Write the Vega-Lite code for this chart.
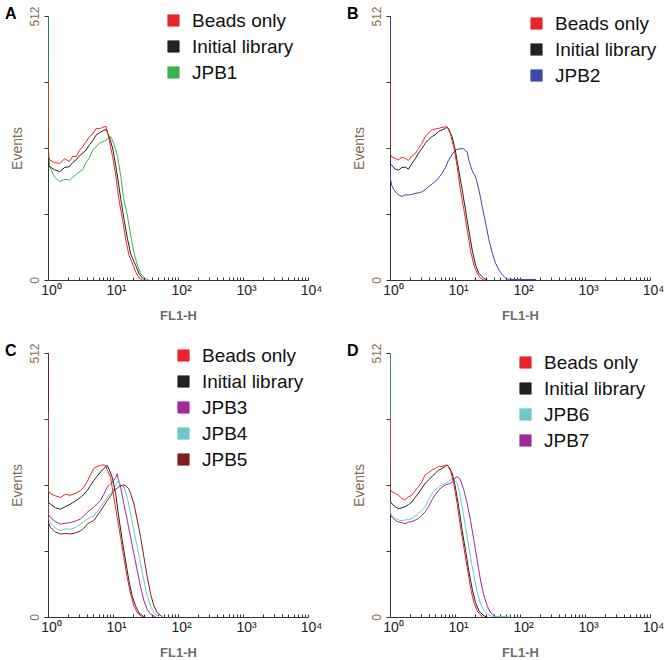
{
 "$schema": "https://vega.github.io/schema/vega-lite/v6.json",
 "padding": 5,
 "bounds": "flush",
 "columns": 2,
 "spacing": {"row": 73, "column": 82},
 "datasets": {
  "A": [
   {"series":"JPB1","x":1,"y":512},{"series":"JPB1","x":1.005,"y":265},{"series":"JPB1","x":1.06,"y":220},{"series":"JPB1","x":1.25,"y":200},{"series":"JPB1","x":1.51,"y":191},{"series":"JPB1","x":1.8,"y":195},{"series":"JPB1","x":2.14,"y":194},{"series":"JPB1","x":2.5,"y":201},{"series":"JPB1","x":2.9,"y":208},{"series":"JPB1","x":3.43,"y":214},{"series":"JPB1","x":3.85,"y":228},{"series":"JPB1","x":4.33,"y":236},{"series":"JPB1","x":4.87,"y":252},{"series":"JPB1","x":5.48,"y":258},{"series":"JPB1","x":6.16,"y":265},{"series":"JPB1","x":6.93,"y":268},{"series":"JPB1","x":7.79,"y":271},{"series":"JPB1","x":8.5,"y":275},{"series":"JPB1","x":9.29,"y":278},{"series":"JPB1","x":10.45,"y":262},{"series":"JPB1","x":11.75,"y":239},{"series":"JPB1","x":13.2,"y":201},{"series":"JPB1","x":14.5,"y":160},{"series":"JPB1","x":16.7,"y":124},{"series":"JPB1","x":18.8,"y":85},{"series":"JPB1","x":21.1,"y":53},{"series":"JPB1","x":23.8,"y":28},{"series":"JPB1","x":26.7,"y":12},{"series":"JPB1","x":31.9,"y":2},{"series":"JPB1","x":35.8,"y":0},
   {"series":"Initial library","x":1,"y":300},{"series":"Initial library","x":1.005,"y":222},{"series":"Initial library","x":1.06,"y":220},{"series":"Initial library","x":1.25,"y":214},{"series":"Initial library","x":1.51,"y":210},{"series":"Initial library","x":1.8,"y":218},{"series":"Initial library","x":2.14,"y":220},{"series":"Initial library","x":2.4,"y":228},{"series":"Initial library","x":2.71,"y":233},{"series":"Initial library","x":3.0,"y":240},{"series":"Initial library","x":3.43,"y":246},{"series":"Initial library","x":3.85,"y":252},{"series":"Initial library","x":4.33,"y":262},{"series":"Initial library","x":4.87,"y":270},{"series":"Initial library","x":5.48,"y":281},{"series":"Initial library","x":6.16,"y":285},{"series":"Initial library","x":6.93,"y":289},{"series":"Initial library","x":7.79,"y":292},{"series":"Initial library","x":8.76,"y":278},{"series":"Initial library","x":9.86,"y":256},{"series":"Initial library","x":10.45,"y":239},{"series":"Initial library","x":11.75,"y":200},{"series":"Initial library","x":13.2,"y":156},{"series":"Initial library","x":14.9,"y":115},{"series":"Initial library","x":16.7,"y":80},{"series":"Initial library","x":18.8,"y":50},{"series":"Initial library","x":22.4,"y":28},{"series":"Initial library","x":25.2,"y":12},{"series":"Initial library","x":28.3,"y":4},{"series":"Initial library","x":31,"y":0},
   {"series":"Beads only","x":1,"y":384},{"series":"Beads only","x":1.005,"y":240},{"series":"Beads only","x":1.06,"y":233},{"series":"Beads only","x":1.25,"y":228},{"series":"Beads only","x":1.51,"y":226},{"series":"Beads only","x":1.8,"y":235},{"series":"Beads only","x":2.14,"y":230},{"series":"Beads only","x":2.4,"y":240},{"series":"Beads only","x":2.71,"y":239},{"series":"Beads only","x":3.0,"y":250},{"series":"Beads only","x":3.43,"y":259},{"series":"Beads only","x":3.85,"y":268},{"series":"Beads only","x":4.33,"y":278},{"series":"Beads only","x":4.87,"y":283},{"series":"Beads only","x":5.48,"y":294},{"series":"Beads only","x":6.16,"y":293},{"series":"Beads only","x":6.93,"y":296},{"series":"Beads only","x":7.79,"y":298},{"series":"Beads only","x":8.3,"y":285},{"series":"Beads only","x":8.76,"y":271},{"series":"Beads only","x":9.86,"y":239},{"series":"Beads only","x":11.08,"y":201},{"series":"Beads only","x":12.2,"y":160},{"series":"Beads only","x":14.0,"y":117},{"series":"Beads only","x":15.7,"y":79},{"series":"Beads only","x":17.7,"y":47},{"series":"Beads only","x":20.6,"y":28},{"series":"Beads only","x":22.4,"y":15},{"series":"Beads only","x":25.2,"y":4},{"series":"Beads only","x":28.3,"y":0}
  ],
  "B": [
   {"series":"JPB2","x":1,"y":512},{"series":"JPB2","x":1.005,"y":200},{"series":"JPB2","x":1.06,"y":184},{"series":"JPB2","x":1.15,"y":175},{"series":"JPB2","x":1.27,"y":168},{"series":"JPB2","x":1.4,"y":164},{"series":"JPB2","x":1.52,"y":162},{"series":"JPB2","x":1.71,"y":165},{"series":"JPB2","x":1.92,"y":165},{"series":"JPB2","x":2.17,"y":166},{"series":"JPB2","x":2.44,"y":168},{"series":"JPB2","x":2.75,"y":169},{"series":"JPB2","x":3.09,"y":171},{"series":"JPB2","x":3.48,"y":175},{"series":"JPB2","x":3.92,"y":181},{"series":"JPB2","x":4.42,"y":186},{"series":"JPB2","x":4.97,"y":191},{"series":"JPB2","x":5.6,"y":198},{"series":"JPB2","x":6.31,"y":207},{"series":"JPB2","x":7.11,"y":218},{"series":"JPB2","x":8.0,"y":233},{"series":"JPB2","x":9.0,"y":243},{"series":"JPB2","x":10.1,"y":252},{"series":"JPB2","x":11.4,"y":254},{"series":"JPB2","x":12.9,"y":255},{"series":"JPB2","x":13.7,"y":254},{"series":"JPB2","x":14.5,"y":251},{"series":"JPB2","x":15.4,"y":249},{"series":"JPB2","x":16.3,"y":233},{"series":"JPB2","x":17.3,"y":222},{"series":"JPB2","x":18.4,"y":212},{"series":"JPB2","x":20.7,"y":200},{"series":"JPB2","x":23.3,"y":175},{"series":"JPB2","x":26.3,"y":142},{"series":"JPB2","x":29.6,"y":110},{"series":"JPB2","x":33.3,"y":78},{"series":"JPB2","x":37.5,"y":52},{"series":"JPB2","x":42.3,"y":32},{"series":"JPB2","x":47.5,"y":19},{"series":"JPB2","x":53.6,"y":10},{"series":"JPB2","x":60.4,"y":3},{"series":"JPB2","x":68,"y":1},{"series":"JPB2","x":100,"y":1},{"series":"JPB2","x":176,"y":1},
   {"series":"Initial library","x":1,"y":300},{"series":"Initial library","x":1.005,"y":225},{"series":"Initial library","x":1.06,"y":223},{"series":"Initial library","x":1.2,"y":215},{"series":"Initial library","x":1.35,"y":213},{"series":"Initial library","x":1.52,"y":218},{"series":"Initial library","x":1.71,"y":219},{"series":"Initial library","x":1.92,"y":215},{"series":"Initial library","x":2.17,"y":226},{"series":"Initial library","x":2.44,"y":235},{"series":"Initial library","x":2.75,"y":246},{"series":"Initial library","x":3.09,"y":255},{"series":"Initial library","x":3.48,"y":265},{"series":"Initial library","x":3.92,"y":272},{"series":"Initial library","x":4.42,"y":278},{"series":"Initial library","x":4.97,"y":282},{"series":"Initial library","x":5.6,"y":288},{"series":"Initial library","x":6.31,"y":291},{"series":"Initial library","x":7.11,"y":294},{"series":"Initial library","x":7.54,"y":297},{"series":"Initial library","x":8.0,"y":293},{"series":"Initial library","x":8.49,"y":285},{"series":"Initial library","x":9.01,"y":278},{"series":"Initial library","x":10.1,"y":252},{"series":"Initial library","x":11.4,"y":213},{"series":"Initial library","x":12.9,"y":175},{"series":"Initial library","x":14.5,"y":136},{"series":"Initial library","x":16.3,"y":97},{"series":"Initial library","x":18.4,"y":58},{"series":"Initial library","x":20.7,"y":29},{"series":"Initial library","x":23.3,"y":13},{"series":"Initial library","x":27.9,"y":3},{"series":"Initial library","x":31.4,"y":0},
   {"series":"Beads only","x":1,"y":385},{"series":"Beads only","x":1.005,"y":245},{"series":"Beads only","x":1.06,"y":239},{"series":"Beads only","x":1.2,"y":236},{"series":"Beads only","x":1.35,"y":233},{"series":"Beads only","x":1.52,"y":238},{"series":"Beads only","x":1.71,"y":236},{"series":"Beads only","x":1.92,"y":232},{"series":"Beads only","x":2.17,"y":240},{"series":"Beads only","x":2.44,"y":245},{"series":"Beads only","x":2.75,"y":255},{"series":"Beads only","x":3.09,"y":265},{"series":"Beads only","x":3.48,"y":278},{"series":"Beads only","x":3.92,"y":285},{"series":"Beads only","x":4.42,"y":291},{"series":"Beads only","x":4.97,"y":293},{"series":"Beads only","x":5.6,"y":294},{"series":"Beads only","x":6.31,"y":296},{"series":"Beads only","x":7.11,"y":297},{"series":"Beads only","x":7.54,"y":297},{"series":"Beads only","x":8.0,"y":290},{"series":"Beads only","x":8.49,"y":284},{"series":"Beads only","x":9.01,"y":270},{"series":"Beads only","x":9.57,"y":259},{"series":"Beads only","x":10.8,"y":220},{"series":"Beads only","x":12.1,"y":175},{"series":"Beads only","x":13.7,"y":136},{"series":"Beads only","x":15.4,"y":97},{"series":"Beads only","x":17.3,"y":58},{"series":"Beads only","x":19.5,"y":29},{"series":"Beads only","x":22,"y":13},{"series":"Beads only","x":24.8,"y":3},{"series":"Beads only","x":27.9,"y":0}
  ],
  "C": [
   {"series":"JPB3","x":1,"y":400},{"series":"JPB3","x":1.005,"y":200},{"series":"JPB3","x":1.09,"y":193},{"series":"JPB3","x":1.3,"y":185},{"series":"JPB3","x":1.55,"y":180},{"series":"JPB3","x":1.85,"y":182},{"series":"JPB3","x":2.21,"y":183},{"series":"JPB3","x":2.65,"y":186},{"series":"JPB3","x":3.16,"y":190},{"series":"JPB3","x":3.55,"y":196},{"series":"JPB3","x":4.0,"y":203},{"series":"JPB3","x":4.5,"y":208},{"series":"JPB3","x":5.07,"y":213},{"series":"JPB3","x":5.7,"y":220},{"series":"JPB3","x":6.43,"y":226},{"series":"JPB3","x":7.2,"y":238},{"series":"JPB3","x":8.15,"y":252},{"series":"JPB3","x":9.2,"y":258},{"series":"JPB3","x":10.3,"y":265},{"series":"JPB3","x":11.0,"y":270},{"series":"JPB3","x":11.6,"y":278},{"series":"JPB3","x":12.3,"y":262},{"series":"JPB3","x":13.1,"y":252},{"series":"JPB3","x":14.7,"y":219},{"series":"JPB3","x":16.6,"y":187},{"series":"JPB3","x":18.7,"y":154},{"series":"JPB3","x":21.0,"y":122},{"series":"JPB3","x":23.7,"y":89},{"series":"JPB3","x":26.7,"y":57},{"series":"JPB3","x":30,"y":31},{"series":"JPB3","x":33.8,"y":14},{"series":"JPB3","x":38,"y":5},{"series":"JPB3","x":45.5,"y":0},
   {"series":"JPB4","x":1,"y":400},{"series":"JPB4","x":1.005,"y":190},{"series":"JPB4","x":1.09,"y":183},{"series":"JPB4","x":1.3,"y":172},{"series":"JPB4","x":1.55,"y":167},{"series":"JPB4","x":1.85,"y":171},{"series":"JPB4","x":2.21,"y":170},{"series":"JPB4","x":2.65,"y":174},{"series":"JPB4","x":3.16,"y":180},{"series":"JPB4","x":3.55,"y":185},{"series":"JPB4","x":4.0,"y":190},{"series":"JPB4","x":4.5,"y":193},{"series":"JPB4","x":5.07,"y":196},{"series":"JPB4","x":5.7,"y":205},{"series":"JPB4","x":6.43,"y":213},{"series":"JPB4","x":7.2,"y":222},{"series":"JPB4","x":8.15,"y":232},{"series":"JPB4","x":9.2,"y":240},{"series":"JPB4","x":10.3,"y":248},{"series":"JPB4","x":11.6,"y":262},{"series":"JPB4","x":12.3,"y":266},{"series":"JPB4","x":13.1,"y":255},{"series":"JPB4","x":14.7,"y":252},{"series":"JPB4","x":16.6,"y":232},{"series":"JPB4","x":18.7,"y":200},{"series":"JPB4","x":21.0,"y":167},{"series":"JPB4","x":23.7,"y":135},{"series":"JPB4","x":26.7,"y":102},{"series":"JPB4","x":30.0,"y":70},{"series":"JPB4","x":33.8,"y":40},{"series":"JPB4","x":38,"y":21},{"series":"JPB4","x":42.8,"y":8},{"series":"JPB4","x":51.2,"y":0},
   {"series":"JPB5","x":1,"y":512},{"series":"JPB5","x":1.005,"y":185},{"series":"JPB5","x":1.09,"y":174},{"series":"JPB5","x":1.3,"y":165},{"series":"JPB5","x":1.55,"y":161},{"series":"JPB5","x":1.85,"y":162},{"series":"JPB5","x":2.21,"y":161},{"series":"JPB5","x":2.65,"y":163},{"series":"JPB5","x":3.16,"y":167},{"series":"JPB5","x":3.55,"y":172},{"series":"JPB5","x":4.0,"y":180},{"series":"JPB5","x":4.5,"y":184},{"series":"JPB5","x":5.07,"y":187},{"series":"JPB5","x":5.7,"y":196},{"series":"JPB5","x":6.43,"y":206},{"series":"JPB5","x":7.2,"y":215},{"series":"JPB5","x":8.15,"y":226},{"series":"JPB5","x":9.2,"y":235},{"series":"JPB5","x":10.3,"y":245},{"series":"JPB5","x":11.6,"y":250},{"series":"JPB5","x":13.1,"y":255},{"series":"JPB5","x":14.7,"y":256},{"series":"JPB5","x":15.6,"y":255},{"series":"JPB5","x":17.6,"y":248},{"series":"JPB5","x":18.7,"y":239},{"series":"JPB5","x":21.0,"y":219},{"series":"JPB5","x":23.7,"y":187},{"series":"JPB5","x":26.7,"y":154},{"series":"JPB5","x":30.0,"y":115},{"series":"JPB5","x":33.8,"y":76},{"series":"JPB5","x":38.0,"y":44},{"series":"JPB5","x":42.8,"y":21},{"series":"JPB5","x":48.2,"y":8},{"series":"JPB5","x":57.7,"y":0},
   {"series":"Initial library","x":1,"y":320},{"series":"Initial library","x":1.005,"y":222},{"series":"Initial library","x":1.09,"y":219},{"series":"Initial library","x":1.3,"y":212},{"series":"Initial library","x":1.55,"y":209},{"series":"Initial library","x":1.85,"y":214},{"series":"Initial library","x":2.21,"y":219},{"series":"Initial library","x":2.65,"y":225},{"series":"Initial library","x":3.16,"y":232},{"series":"Initial library","x":3.55,"y":238},{"series":"Initial library","x":4.0,"y":245},{"series":"Initial library","x":4.5,"y":255},{"series":"Initial library","x":5.07,"y":265},{"series":"Initial library","x":5.7,"y":273},{"series":"Initial library","x":6.43,"y":281},{"series":"Initial library","x":7.2,"y":288},{"series":"Initial library","x":8.15,"y":294},{"series":"Initial library","x":8.8,"y":285},{"series":"Initial library","x":9.73,"y":271},{"series":"Initial library","x":11.0,"y":239},{"series":"Initial library","x":12.3,"y":193},{"series":"Initial library","x":13.9,"y":148},{"series":"Initial library","x":15.6,"y":109},{"series":"Initial library","x":17.6,"y":70},{"series":"Initial library","x":19.8,"y":40},{"series":"Initial library","x":22.3,"y":21},{"series":"Initial library","x":25.1,"y":8},{"series":"Initial library","x":30,"y":0},
   {"series":"Beads only","x":1,"y":385},{"series":"Beads only","x":1.005,"y":245},{"series":"Beads only","x":1.09,"y":239},{"series":"Beads only","x":1.3,"y":235},{"series":"Beads only","x":1.55,"y":232},{"series":"Beads only","x":1.85,"y":238},{"series":"Beads only","x":2.21,"y":236},{"series":"Beads only","x":2.65,"y":240},{"series":"Beads only","x":3.16,"y":245},{"series":"Beads only","x":3.55,"y":252},{"series":"Beads only","x":4.0,"y":262},{"series":"Beads only","x":4.5,"y":276},{"series":"Beads only","x":5.07,"y":288},{"series":"Beads only","x":5.7,"y":292},{"series":"Beads only","x":6.43,"y":294},{"series":"Beads only","x":7.0,"y":295},{"series":"Beads only","x":7.68,"y":294},{"series":"Beads only","x":8.15,"y":285},{"series":"Beads only","x":9.18,"y":271},{"series":"Beads only","x":10.3,"y":232},{"series":"Beads only","x":11.6,"y":193},{"series":"Beads only","x":13.1,"y":154},{"series":"Beads only","x":14.7,"y":115},{"series":"Beads only","x":16.6,"y":76},{"series":"Beads only","x":18.7,"y":44},{"series":"Beads only","x":21,"y":21},{"series":"Beads only","x":23.7,"y":8},{"series":"Beads only","x":28.3,"y":0}
  ],
  "D": [
   {"series":"JPB7","x":1,"y":300},{"series":"JPB7","x":1.005,"y":200},{"series":"JPB7","x":1.06,"y":194},{"series":"JPB7","x":1.2,"y":188},{"series":"JPB7","x":1.35,"y":184},{"series":"JPB7","x":1.52,"y":183},{"series":"JPB7","x":1.71,"y":181},{"series":"JPB7","x":1.92,"y":184},{"series":"JPB7","x":2.17,"y":185},{"series":"JPB7","x":2.44,"y":188},{"series":"JPB7","x":2.75,"y":191},{"series":"JPB7","x":3.09,"y":197},{"series":"JPB7","x":3.48,"y":204},{"series":"JPB7","x":3.92,"y":214},{"series":"JPB7","x":4.42,"y":227},{"series":"JPB7","x":4.97,"y":237},{"series":"JPB7","x":5.6,"y":246},{"series":"JPB7","x":6.31,"y":252},{"series":"JPB7","x":7.11,"y":256},{"series":"JPB7","x":8.0,"y":258},{"series":"JPB7","x":8.49,"y":259},{"series":"JPB7","x":9.57,"y":264},{"series":"JPB7","x":10.1,"y":270},{"series":"JPB7","x":10.8,"y":272},{"series":"JPB7","x":11.4,"y":270},{"series":"JPB7","x":12.1,"y":266},{"series":"JPB7","x":13.7,"y":246},{"series":"JPB7","x":15.4,"y":220},{"series":"JPB7","x":17.3,"y":188},{"series":"JPB7","x":19.5,"y":149},{"series":"JPB7","x":22.0,"y":109},{"series":"JPB7","x":24.8,"y":70},{"series":"JPB7","x":27.9,"y":41},{"series":"JPB7","x":31.4,"y":21},{"series":"JPB7","x":35.5,"y":8},{"series":"JPB7","x":42.3,"y":0},
   {"series":"JPB6","x":1,"y":512},{"series":"JPB6","x":1.005,"y":205},{"series":"JPB6","x":1.06,"y":197},{"series":"JPB6","x":1.2,"y":192},{"series":"JPB6","x":1.35,"y":188},{"series":"JPB6","x":1.52,"y":187},{"series":"JPB6","x":1.71,"y":188},{"series":"JPB6","x":1.92,"y":189},{"series":"JPB6","x":2.17,"y":191},{"series":"JPB6","x":2.44,"y":196},{"series":"JPB6","x":2.75,"y":201},{"series":"JPB6","x":3.09,"y":207},{"series":"JPB6","x":3.48,"y":214},{"series":"JPB6","x":3.92,"y":228},{"series":"JPB6","x":4.42,"y":240},{"series":"JPB6","x":4.97,"y":246},{"series":"JPB6","x":5.6,"y":253},{"series":"JPB6","x":6.31,"y":256},{"series":"JPB6","x":7.11,"y":259},{"series":"JPB6","x":8.0,"y":262},{"series":"JPB6","x":9.01,"y":269},{"series":"JPB6","x":9.57,"y":268},{"series":"JPB6","x":10.1,"y":264},{"series":"JPB6","x":10.8,"y":259},{"series":"JPB6","x":12.1,"y":233},{"series":"JPB6","x":13.7,"y":194},{"series":"JPB6","x":15.4,"y":155},{"series":"JPB6","x":17.3,"y":116},{"series":"JPB6","x":19.5,"y":80},{"series":"JPB6","x":22.0,"y":48},{"series":"JPB6","x":24.8,"y":25},{"series":"JPB6","x":27.9,"y":12},{"series":"JPB6","x":33.3,"y":4},{"series":"JPB6","x":37.5,"y":1},{"series":"JPB6","x":60,"y":1},{"series":"JPB6","x":68,"y":0},
   {"series":"Initial library","x":1,"y":300},{"series":"Initial library","x":1.005,"y":225},{"series":"Initial library","x":1.06,"y":220},{"series":"Initial library","x":1.2,"y":214},{"series":"Initial library","x":1.35,"y":210},{"series":"Initial library","x":1.52,"y":212},{"series":"Initial library","x":1.71,"y":214},{"series":"Initial library","x":1.92,"y":218},{"series":"Initial library","x":2.17,"y":223},{"series":"Initial library","x":2.44,"y":232},{"series":"Initial library","x":2.75,"y":240},{"series":"Initial library","x":3.09,"y":250},{"series":"Initial library","x":3.48,"y":259},{"series":"Initial library","x":3.92,"y":266},{"series":"Initial library","x":4.42,"y":272},{"series":"Initial library","x":4.97,"y":279},{"series":"Initial library","x":5.6,"y":285},{"series":"Initial library","x":6.31,"y":288},{"series":"Initial library","x":7.11,"y":292},{"series":"Initial library","x":7.54,"y":295},{"series":"Initial library","x":8.2,"y":290},{"series":"Initial library","x":9.01,"y":279},{"series":"Initial library","x":10.1,"y":253},{"series":"Initial library","x":11.4,"y":214},{"series":"Initial library","x":12.9,"y":168},{"series":"Initial library","x":14.5,"y":129},{"series":"Initial library","x":16.3,"y":90},{"series":"Initial library","x":18.4,"y":54},{"series":"Initial library","x":20.7,"y":28},{"series":"Initial library","x":23.3,"y":12},{"series":"Initial library","x":27.9,"y":2},{"series":"Initial library","x":31.4,"y":0},
   {"series":"Beads only","x":1,"y":383},{"series":"Beads only","x":1.005,"y":248},{"series":"Beads only","x":1.06,"y":243},{"series":"Beads only","x":1.2,"y":240},{"series":"Beads only","x":1.35,"y":236},{"series":"Beads only","x":1.52,"y":230},{"series":"Beads only","x":1.71,"y":227},{"series":"Beads only","x":1.92,"y":233},{"series":"Beads only","x":2.17,"y":236},{"series":"Beads only","x":2.44,"y":245},{"series":"Beads only","x":2.75,"y":253},{"series":"Beads only","x":3.09,"y":262},{"series":"Beads only","x":3.48,"y":276},{"series":"Beads only","x":3.92,"y":280},{"series":"Beads only","x":4.42,"y":285},{"series":"Beads only","x":4.97,"y":288},{"series":"Beads only","x":5.6,"y":292},{"series":"Beads only","x":6.31,"y":292},{"series":"Beads only","x":7.11,"y":294},{"series":"Beads only","x":7.54,"y":295},{"series":"Beads only","x":8.49,"y":285},{"series":"Beads only","x":9.57,"y":259},{"series":"Beads only","x":10.8,"y":220},{"series":"Beads only","x":12.1,"y":175},{"series":"Beads only","x":13.7,"y":135},{"series":"Beads only","x":15.4,"y":96},{"series":"Beads only","x":17.3,"y":57},{"series":"Beads only","x":19.5,"y":28},{"series":"Beads only","x":22,"y":12},{"series":"Beads only","x":26.3,"y":0}
  ]
 },
 "concat": [
  {
   "width": 260, "height": 264,
   "title": {"text": "A", "dy": 20},
   "data": {"name": "A"},
   "mark": {"type": "line", "strokeWidth": 1, "clip": true},
   "encoding": {
    "x": {"field": "x", "type": "quantitative", "scale": {"type": "log", "domain": [1, 10000], "nice": false}, "axis": {"title": "FL1-H", "titlePadding": 12, "values": [1,2,3,4,5,6,7,8,9,10,20,30,40,50,60,70,80,90,100,200,300,400,500,600,700,800,900,1000,2000,3000,4000,5000,6000,7000,8000,9000,10000], "labelExpr": "datum.value==1?'10⁰':datum.value==10?'10¹':datum.value==100?'10²':datum.value==1000?'10³':datum.value==10000?'10⁴':''"}},
    "y": {"field": "y", "type": "quantitative", "scale": {"domain": [0, 512], "nice": false}, "axis": {"title": "Events", "titleFontSize": 14, "labelFontSize": 12, "values": [0,128,256,384,512], "labelExpr": "datum.value==0||datum.value==512?datum.label:''"}},
    "color": {"field": "series", "type": "nominal", "scale": {"domain": ["Beads only", "Initial library", "JPB1"], "range": ["#e8262a", "#222222", "#3cb34a"]}, "legend": {"title": null, "legendX": 116, "legendY": -5, "encode": {"symbols": {"update": {"fill": {"signal": "datum.value==='Beads only'?'#e8262a':datum.value==='Initial library'?'#222222':datum.value==='JPB1'?'#3cb34a':datum.value==='JPB2'?'#3b48a8':datum.value==='JPB5'?'#7b1e1e':(datum.value==='JPB4'||datum.value==='JPB6')?'#6cc9c9':'#9c2a9c'"}, "fillOpacity": {"value": 1}, "stroke": {"value": "#3a3a3a"}, "strokeWidth": {"value": 0.7}}}}}}
   }
  },
  {
   "width": 260, "height": 264,
   "title": {"text": "B", "dy": 20},
   "data": {"name": "B"},
   "mark": {"type": "line", "strokeWidth": 1, "clip": true},
   "encoding": {
    "x": {"field": "x", "type": "quantitative", "scale": {"type": "log", "domain": [1, 10000], "nice": false}, "axis": {"title": "FL1-H", "titlePadding": 12, "values": [1,2,3,4,5,6,7,8,9,10,20,30,40,50,60,70,80,90,100,200,300,400,500,600,700,800,900,1000,2000,3000,4000,5000,6000,7000,8000,9000,10000], "labelExpr": "datum.value==1?'10⁰':datum.value==10?'10¹':datum.value==100?'10²':datum.value==1000?'10³':datum.value==10000?'10⁴':''"}},
    "y": {"field": "y", "type": "quantitative", "scale": {"domain": [0, 512], "nice": false}, "axis": {"title": "Events", "titleFontSize": 14, "labelFontSize": 12, "values": [0,128,256,384,512], "labelExpr": "datum.value==0||datum.value==512?datum.label:''"}},
    "color": {"field": "series", "type": "nominal", "scale": {"domain": ["Beads only", "Initial library", "JPB2"], "range": ["#e8262a", "#222222", "#3b48a8"]}, "legend": {"title": null, "legendX": 137, "legendY": -2, "encode": {"symbols": {"update": {"fill": {"signal": "datum.value==='Beads only'?'#e8262a':datum.value==='Initial library'?'#222222':datum.value==='JPB1'?'#3cb34a':datum.value==='JPB2'?'#3b48a8':datum.value==='JPB5'?'#7b1e1e':(datum.value==='JPB4'||datum.value==='JPB6')?'#6cc9c9':'#9c2a9c'"}, "fillOpacity": {"value": 1}, "stroke": {"value": "#3a3a3a"}, "strokeWidth": {"value": 0.7}}}}}}
   }
  },
  {
   "width": 260, "height": 264,
   "title": {"text": "C", "dy": 20},
   "data": {"name": "C"},
   "mark": {"type": "line", "strokeWidth": 1, "clip": true},
   "encoding": {
    "x": {"field": "x", "type": "quantitative", "scale": {"type": "log", "domain": [1, 10000], "nice": false}, "axis": {"title": "FL1-H", "titlePadding": 12, "values": [1,2,3,4,5,6,7,8,9,10,20,30,40,50,60,70,80,90,100,200,300,400,500,600,700,800,900,1000,2000,3000,4000,5000,6000,7000,8000,9000,10000], "labelExpr": "datum.value==1?'10⁰':datum.value==10?'10¹':datum.value==100?'10²':datum.value==1000?'10³':datum.value==10000?'10⁴':''"}},
    "y": {"field": "y", "type": "quantitative", "scale": {"domain": [0, 512], "nice": false}, "axis": {"title": "Events", "titleFontSize": 14, "labelFontSize": 12, "values": [0,128,256,384,512], "labelExpr": "datum.value==0||datum.value==512?datum.label:''"}},
    "color": {"field": "series", "type": "nominal", "scale": {"domain": ["Beads only", "Initial library", "JPB3", "JPB4", "JPB5"], "range": ["#e8262a", "#222222", "#9c2a9c", "#6cc9c9", "#7b1e1e"]}, "legend": {"title": null, "legendX": 126, "legendY": -7, "encode": {"symbols": {"update": {"fill": {"signal": "datum.value==='Beads only'?'#e8262a':datum.value==='Initial library'?'#222222':datum.value==='JPB1'?'#3cb34a':datum.value==='JPB2'?'#3b48a8':datum.value==='JPB5'?'#7b1e1e':(datum.value==='JPB4'||datum.value==='JPB6')?'#6cc9c9':'#9c2a9c'"}, "fillOpacity": {"value": 1}, "stroke": {"value": "#3a3a3a"}, "strokeWidth": {"value": 0.7}}}}}}
   }
  },
  {
   "width": 260, "height": 264,
   "title": {"text": "D", "dy": 20},
   "data": {"name": "D"},
   "mark": {"type": "line", "strokeWidth": 1, "clip": true},
   "encoding": {
    "x": {"field": "x", "type": "quantitative", "scale": {"type": "log", "domain": [1, 10000], "nice": false}, "axis": {"title": "FL1-H", "titlePadding": 12, "values": [1,2,3,4,5,6,7,8,9,10,20,30,40,50,60,70,80,90,100,200,300,400,500,600,700,800,900,1000,2000,3000,4000,5000,6000,7000,8000,9000,10000], "labelExpr": "datum.value==1?'10⁰':datum.value==10?'10¹':datum.value==100?'10²':datum.value==1000?'10³':datum.value==10000?'10⁴':''"}},
    "y": {"field": "y", "type": "quantitative", "scale": {"domain": [0, 512], "nice": false}, "axis": {"title": "Events", "titleFontSize": 14, "labelFontSize": 12, "values": [0,128,256,384,512], "labelExpr": "datum.value==0||datum.value==512?datum.label:''"}},
    "color": {"field": "series", "type": "nominal", "scale": {"domain": ["Beads only", "Initial library", "JPB6", "JPB7"], "range": ["#e8262a", "#222222", "#6cc9c9", "#9c2a9c"]}, "legend": {"title": null, "legendX": 126, "legendY": 0, "encode": {"symbols": {"update": {"fill": {"signal": "datum.value==='Beads only'?'#e8262a':datum.value==='Initial library'?'#222222':datum.value==='JPB1'?'#3cb34a':datum.value==='JPB2'?'#3b48a8':datum.value==='JPB5'?'#7b1e1e':(datum.value==='JPB4'||datum.value==='JPB6')?'#6cc9c9':'#9c2a9c'"}, "fillOpacity": {"value": 1}, "stroke": {"value": "#3a3a3a"}, "strokeWidth": {"value": 0.7}}}}}}
   }
  }
 ],
 "resolve": {"scale": {"color": "independent"}, "legend": {"color": "independent"}},
 "config": {
  "view": {"stroke": null},
  "font": "Liberation Sans",
  "axis": {"grid": false, "domainColor": "#333333", "tickColor": "#333333", "domainWidth": 1, "tickWidth": 1},
  "axisX": {"tickSize": -3, "labelPadding": 6, "labelFontSize": 14, "labelColor": "#222222", "labelOverlap": false, "labelFlush": false, "labelOffset": 3, "titleFontSize": 13, "titleFontWeight": "bold", "titleColor": "#6e6e6e", "titlePadding": 12},
  "axisY": {"tickSize": 4, "labelPadding": 3, "labelAngle": 270, "labelAlign": "center", "labelBaseline": "bottom", "labelFontSize": 12, "labelColor": "#8a6d4e", "labelFlush": false, "labelOverlap": false, "titleFontSize": 14, "titleFontWeight": "normal", "titleColor": "#7d6a57", "titlePadding": 4},
  "legend": {"orient": "none", "symbolType": "square", "symbolSize": 130, "labelFontSize": 19, "labelColor": "#111111", "labelOffset": 9, "rowPadding": 6, "padding": 0, "labelLimit": 400},
  "title": {"anchor": "start", "frame": "group", "fontSize": 16, "fontWeight": "bold", "color": "#000000", "offset": 0, "dx": -43, "baseline": "alphabetic"}
 }
}
